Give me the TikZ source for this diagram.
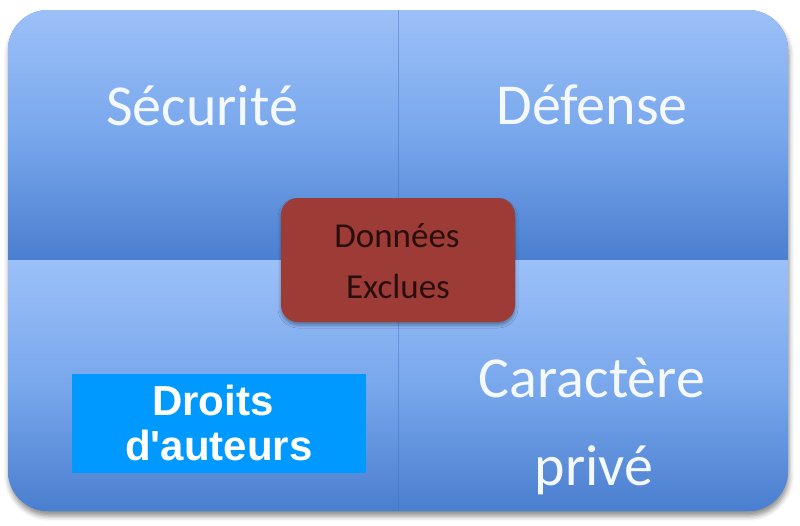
\documentclass[tikz,border=0pt]{standalone}
\usepackage{fontspec}
\setmainfont{Carlito}
\newfontfamily\arialfont{Liberation Sans}
\usetikzlibrary{shadows.blur}
\definecolor{qtop}{HTML}{9CC0F8}
\definecolor{qmid}{HTML}{78A7EC}
\definecolor{qbot}{HTML}{4A7ECF}
\definecolor{redbox}{HTML}{9D3B36}
\definecolor{redtext}{HTML}{2A0E0E}
\definecolor{copyblue}{HTML}{0099FF}
\definecolor{divline}{HTML}{3F70BE}
\definecolor{softwhite}{HTML}{F4F8FF}
\begin{document}
\begin{tikzpicture}[x=1pt,y=-1pt,
  bigtext/.style={text=softwhite,font=\fontsize{58}{68}\selectfont,inner sep=0pt,anchor=base},
  midtext/.style={text=redtext,font=\fontsize{35}{41}\selectfont,inner sep=0pt,anchor=base},
  boldtext/.style={text=white,font=\arialfont\bfseries\fontsize{42}{48}\selectfont,inner sep=0pt,anchor=base},
  quadshade/.style={top color=qtop,bottom color=qbot,middle color=qmid}]
\useasboundingbox (0,0) rectangle (800,525);
% outer matrix with shadow
\path[fill=qbot,rounded corners=40pt,
  blur shadow={shadow xshift=1pt,shadow yshift=-5pt,shadow blur radius=5pt,shadow opacity=45}]
  (8,10) rectangle (788,511);
\begin{scope}
  \clip[rounded corners=40pt] (8,10) rectangle (788,511);
  \shade[quadshade] (8,10) rectangle (788,260);
  \shade[quadshade] (8,260) rectangle (788,511);
\end{scope}
\coordinate (vtop) at (398,10);
\coordinate (vbot) at (398,511);
\draw[divline,opacity=0.45,line width=1pt] (vtop) -- (vbot);
% quadrant labels
\node[bigtext] (secu) at (202,125) {Sécurité};
\node[bigtext] (defe) at (592,124) {Défense};
\node[bigtext] (cara1) at (592,397) {Caractère};
\node[bigtext] (cara2) at (594,485) {privé};
% copyright box
\node[fill=copyblue,minimum width=294pt,minimum height=99pt,inner sep=0pt] (droits) at (219,423.5) {};
\node[boldtext] (droits1) at (213,415) {Droits};
\node[boldtext] (droits2) at (219,460) {d'auteurs};
% centre box
\node[fill=redbox,rounded corners=17pt,minimum width=234pt,minimum height=124pt,inner sep=0pt,
  blur shadow={shadow xshift=0pt,shadow yshift=-3pt,shadow blur radius=3pt,shadow opacity=35}] (excl) at (398,260) {};
\node[midtext] (excl1) at (397,247) {Données};
\node[midtext] (excl2) at (398,298) {Exclues};
\end{tikzpicture}
\end{document}
